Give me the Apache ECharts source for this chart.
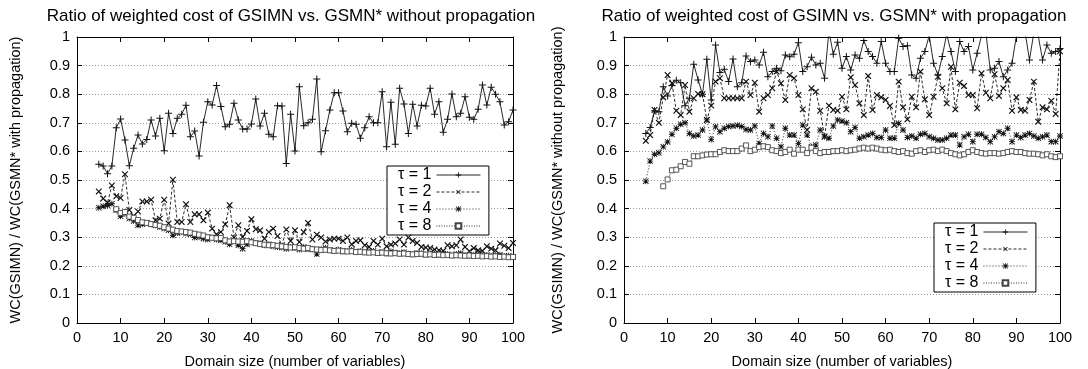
<!DOCTYPE html>
<html>
<head>
<meta charset="utf-8">
<script src="https://cdn.jsdelivr.net/npm/echarts@6/dist/echarts.min.js"></script>
<style>
html,body{margin:0;padding:0;background:#fff;}
#chart{width:1088px;height:369px;}
</style>
</head>
<body>
<div id="chart"></div>
<script>
const domainSizes = [5,6,7,8,9,10,11,12,13,14,15,16,17,18,19,20,21,22,23,24,25,26,27,28,29,30,31,32,33,34,35,36,37,38,39,40,41,42,43,44,45,46,47,48,49,50,51,52,53,54,55,56,57,58,59,60,61,62,63,64,65,66,67,68,69,70,71,72,73,74,75,76,77,78,79,80,81,82,83,84,85,86,87,88,89,90,91,92,93,94,95,96,97,98,99,100];
const seriesNames = ['τ = 1','τ = 2','τ = 4','τ = 8'];
const leftTitle = 'Ratio of weighted cost of GSIMN vs. GSMN* without propagation';
const rightTitle = 'Ratio of weighted cost of GSIMN vs. GSMN* with propagation';
const leftYName = 'WC(GSIMN) / WC(GSMN* with propagation)';
const rightYName = 'WC(GSIMN) / WC(GSMN* without propagation)';
const xName = 'Domain size (number of variables)';

// Left panel: without propagation
const leftT1 = [0.555,0.549,0.522,0.549,0.683,0.713,0.640,0.550,0.611,0.657,
0.626,0.642,0.710,0.654,0.716,0.602,0.733,0.663,0.716,0.730,
0.761,0.651,0.671,0.584,0.702,0.774,0.762,0.830,0.757,0.686,
0.695,0.768,0.710,0.678,0.678,0.696,0.783,0.689,0.733,0.660,
0.651,0.760,0.759,0.558,0.730,0.601,0.826,0.690,0.700,0.712,
0.853,0.599,0.672,0.745,0.805,0.805,0.741,0.669,0.698,0.695,
0.646,0.683,0.721,0.700,0.700,0.809,0.616,0.772,0.625,0.821,
0.766,0.663,0.765,0.689,0.761,0.759,0.821,0.730,0.774,0.667,
0.712,0.801,0.721,0.733,0.791,0.719,0.712,0.747,0.832,0.762,
0.824,0.800,0.774,0.692,0.704,0.745];
const leftT2 = [0.460,0.435,0.421,0.481,0.443,0.437,0.520,0.395,0.375,0.390,
0.425,0.425,0.431,0.359,0.365,0.431,0.348,0.501,0.353,0.353,
0.415,0.353,0.380,0.380,0.359,0.386,0.330,0.310,0.318,0.345,
0.412,0.299,0.342,0.301,0.322,0.363,0.328,0.324,0.295,0.318,
0.330,0.304,0.272,0.327,0.287,0.324,0.283,0.318,0.350,0.292,
0.309,0.299,0.285,0.292,0.295,0.295,0.287,0.299,0.275,0.287,
0.289,0.272,0.266,0.287,0.274,0.295,0.268,0.274,0.278,0.292,
0.274,0.299,0.287,0.280,0.266,0.264,0.262,0.257,0.254,0.252,
0.272,0.268,0.272,0.292,0.266,0.251,0.262,0.254,0.252,0.268,
0.260,0.254,0.278,0.270,0.262,0.280];
const leftT4 = [0.403,0.408,0.411,0.417,0.394,0.373,0.382,0.365,0.357,0.342,
0.345,0.350,0.345,0.342,0.336,0.330,0.324,0.307,0.315,0.318,
0.313,0.310,0.299,0.301,0.295,0.292,0.299,0.292,0.289,0.284,
0.275,0.289,0.272,0.260,0.275,0.287,0.280,0.278,0.272,0.275,
0.268,0.266,0.264,0.260,0.266,0.262,0.257,0.266,0.258,0.258,
0.241,0.258,0.262,0.255,0.253,0.256,0.250,0.252,0.255,0.248,
0.251,0.247,0.249,0.252,0.245,0.248,0.243,0.250,0.246,0.244,
0.247,0.242,0.240,0.245,0.243,0.239,0.244,0.241,0.238,0.242,
0.240,0.236,0.241,0.244,0.238,0.235,0.239,0.241,0.236,0.238,
0.234,0.237,0.239,0.233,0.235,0.231];
const leftT8 = [null,null,null,null,0.398,0.385,0.388,0.372,0.368,0.360,
0.352,0.350,0.346,0.343,0.340,0.335,0.330,0.326,0.322,0.320,
0.318,0.316,0.312,0.309,0.306,0.300,0.298,0.296,0.297,0.289,
0.285,0.286,0.285,0.284,0.286,0.282,0.279,0.276,0.274,0.272,
0.272,0.270,0.268,0.266,0.264,0.265,0.262,0.260,0.262,0.258,
0.257,0.255,0.256,0.254,0.252,0.253,0.251,0.250,0.251,0.248,
0.249,0.247,0.246,0.247,0.245,0.246,0.244,0.243,0.244,0.242,
0.243,0.241,0.240,0.241,0.242,0.239,0.240,0.238,0.239,0.237,
0.238,0.236,0.237,0.236,0.235,0.236,0.234,0.235,0.233,0.234,
0.232,0.233,0.231,0.232,0.230,0.231];

// Right panel: with propagation
const rightT1 = [0.663,0.684,0.742,0.739,0.826,0.794,0.830,0.849,0.840,0.760,
0.786,0.905,0.850,0.800,0.922,0.780,0.972,0.876,0.887,0.844,
0.923,0.826,0.840,0.934,0.914,0.920,0.902,0.947,0.861,0.879,
0.891,0.882,0.937,0.931,0.940,0.980,0.879,0.896,0.929,0.902,
0.908,0.856,1.020,0.940,0.982,0.891,0.932,0.885,0.937,0.926,
0.988,0.949,0.932,0.908,0.984,0.908,0.879,0.879,0.996,0.967,
0.969,0.867,0.856,0.926,0.949,1.005,0.908,0.867,0.932,1.010,
0.949,0.879,0.984,0.949,0.967,0.885,0.943,1.005,1.015,0.885,
0.891,0.914,0.861,0.885,0.908,1.005,1.040,1.015,0.920,1.015,
1.005,0.920,0.972,0.943,0.949,0.960];
const rightT2 = [0.637,0.657,0.745,0.700,0.789,0.867,0.838,0.742,0.727,0.832,
0.739,0.786,0.801,0.800,0.710,0.760,0.844,0.856,0.786,0.786,
0.786,0.786,0.786,0.844,0.797,0.840,0.739,0.786,0.797,0.821,
0.879,0.838,0.780,0.867,0.856,0.797,0.747,0.675,0.821,0.809,
0.742,0.652,0.760,0.745,0.742,0.791,0.747,0.859,0.832,0.768,
0.727,0.864,0.745,0.797,0.789,0.780,0.759,0.692,0.844,0.754,
0.712,0.791,0.754,0.879,0.782,0.727,0.791,0.861,0.821,0.768,
0.896,0.747,0.840,0.829,0.797,0.797,0.751,0.873,0.805,0.786,
0.870,0.794,0.821,0.850,0.742,0.789,0.745,0.742,0.780,0.844,
0.704,0.754,0.747,0.777,0.731,0.950];
const rightT4 = [0.496,0.566,0.590,0.595,0.616,0.633,0.660,0.681,0.695,0.700,
0.663,0.654,0.657,0.675,0.710,0.642,0.686,0.669,0.681,0.687,
0.689,0.691,0.687,0.677,0.675,0.689,0.628,0.663,0.651,0.689,
0.646,0.616,0.681,0.657,0.657,0.628,0.692,0.657,0.616,0.622,
0.675,0.651,0.646,0.689,0.710,0.706,0.700,0.669,0.684,0.646,
0.651,0.657,0.663,0.649,0.649,0.675,0.646,0.646,0.698,0.675,
0.649,0.654,0.646,0.660,0.663,0.651,0.646,0.640,0.640,0.646,
0.657,0.657,0.622,0.651,0.660,0.634,0.660,0.660,0.649,0.634,
0.651,0.669,0.663,0.681,0.634,0.657,0.649,0.657,0.663,0.654,
0.646,0.651,0.657,0.634,0.634,0.654];
const rightT8 = [null,null,null,null,0.478,0.502,0.534,0.536,0.548,0.563,
0.557,0.583,0.583,0.586,0.589,0.590,0.590,0.598,0.604,0.601,
0.601,0.601,0.610,0.621,0.601,0.606,0.615,0.618,0.615,0.604,
0.601,0.594,0.598,0.606,0.592,0.606,0.606,0.594,0.613,0.601,
0.594,0.598,0.598,0.601,0.601,0.604,0.601,0.604,0.606,0.610,
0.613,0.610,0.613,0.610,0.606,0.604,0.606,0.601,0.598,0.601,
0.594,0.592,0.601,0.604,0.598,0.604,0.606,0.601,0.606,0.601,
0.594,0.590,0.586,0.590,0.598,0.604,0.598,0.594,0.592,0.594,
0.594,0.592,0.594,0.598,0.601,0.598,0.598,0.594,0.592,0.592,
0.590,0.586,0.590,0.583,0.580,0.583];

const FONT = "'Liberation Sans', Arial, sans-serif";
const FS = 14.5;
const plusPath = 'path://M3,0h1v3h3v1h-3v3h-1v-3h-3v-1h3z';
const starPath = 'path://M3,0h1v7h-1z M0,3h7v1h-7z M0,0.7L0.7,0L7,6.3L6.3,7Z M6.3,0L7,0.7L0.7,7L0,6.3Z';

const styles = [
  {symbol: plusPath, symbolSize: 7, symbolRotate: 0, lineType: 'solid', empty: false},
  {symbol: plusPath, symbolSize: 8, symbolRotate: 45, lineType: [3,2], empty: false},
  {symbol: starPath, symbolSize: 6, symbolRotate: 0, lineType: [1,2], empty: false},
  {symbol: 'rect', symbolSize: 5, symbolRotate: 0, lineType: [1,1.5], empty: true}
];

function pairs(arr){ return domainSizes.map((x,i)=>[x, arr[i]]); }

function mkSeries(arr, k, gi){
  const st = styles[k];
  return {
    type: 'line', name: seriesNames[k],
    xAxisIndex: gi*2, yAxisIndex: gi*2,
    data: pairs(arr),
    symbol: st.symbol, symbolSize: st.symbolSize, symbolRotate: st.symbolRotate,
    showSymbol: true, showAllSymbol: true, clip: true, connectNulls: false,
    lineStyle: {color: '#111', width: 0.9, type: st.lineType},
    itemStyle: st.empty ? {color: '#fff', borderColor: '#444', borderWidth: 0.9}
                        : {color: '#111', borderWidth: 0},
    emphasis: {disabled: true}, z: 3 + k
  };
}

const grids = [
  {left: 77, top: 37, width: 436, height: 286, containLabel: false, outerBoundsMode: 'none'},
  {left: 624, top: 37, width: 436, height: 286, containLabel: false, outerBoundsMode: 'none'}
];

function xAxes(gi){
  return [
    {gridIndex: gi, type: 'value', min: 0, max: 100, interval: 10, position: 'bottom',
     name: xName, nameLocation: 'middle', nameGap: 31,
     nameTextStyle: {fontFamily: FONT, fontSize: FS, color: '#000'},
     axisLine: {show: true, onZero: false, lineStyle: {color: '#000', width: 1}},
     axisTick: {show: true, inside: true, length: 5, lineStyle: {color: '#000'}},
     axisLabel: {fontFamily: FONT, fontSize: FS, color: '#000', margin: 7},
     splitLine: {show: false}},
    {gridIndex: gi, type: 'value', min: 0, max: 100, interval: 10, position: 'top',
     axisLine: {show: true, onZero: false, lineStyle: {color: '#000', width: 1}},
     axisTick: {show: true, inside: true, length: 5, lineStyle: {color: '#000'}},
     axisLabel: {show: false}, splitLine: {show: false}}
  ];
}
function yAxes(gi, nm, gap){
  return [
    {gridIndex: gi, type: 'value', min: 0, max: 1, interval: 0.1, position: 'left',
     name: nm, nameLocation: 'middle', nameGap: gap,
     nameTextStyle: {fontFamily: FONT, fontSize: FS, color: '#000'},
     axisLine: {show: true, onZero: false, lineStyle: {color: '#000', width: 1}},
     axisTick: {show: true, inside: true, length: 5, lineStyle: {color: '#000'}},
     axisLabel: {fontFamily: FONT, fontSize: FS, color: '#000', margin: 7},
     splitLine: {show: true, lineStyle: {color: '#999', width: 1, type: [1,2]}}},
    {gridIndex: gi, type: 'value', min: 0, max: 1, interval: 0.1, position: 'right',
     axisLine: {show: true, onZero: false, lineStyle: {color: '#000', width: 1}},
     axisTick: {show: true, inside: true, length: 5, lineStyle: {color: '#000'}},
     axisLabel: {show: false}, splitLine: {show: false}}
  ];
}

function legendAt(left, top){
  return {
    left: left, top: top, orient: 'vertical', align: 'right',
    data: seriesNames, itemWidth: 44, itemHeight: 7, itemGap: 1,
    padding: [1, 8, 1, 11],
    backgroundColor: '#fff', borderColor: '#000', borderWidth: 1, borderRadius: 0,
    selectedMode: false,
    lineStyle: {width: 0.9},
    textStyle: {fontFamily: FONT, fontSize: 16, color: '#000', lineHeight: 14}
  };
}

const chart = echarts.init(document.getElementById('chart'), null, {renderer: 'canvas'});
chart.setOption({
  animation: false,
  backgroundColor: '#fff',
  title: [
    {text: leftTitle, left: 286, top: 3, textAlign: 'center',
     textStyle: {fontFamily: FONT, fontSize: 17, fontWeight: 'normal', color: '#000'}},
    {text: rightTitle, left: 829, top: 3, textAlign: 'center',
     textStyle: {fontFamily: FONT, fontSize: 17, fontWeight: 'normal', color: '#000'}}
  ],
  grid: grids,
  xAxis: [...xAxes(0), ...xAxes(1)],
  yAxis: [...yAxes(0, leftYName, 54), ...yAxes(1, rightYName, 59)],
  legend: [legendAt(387, 166), legendAt(934, 223)],
  series: [
    mkSeries(leftT1, 0, 0), mkSeries(leftT2, 1, 0), mkSeries(leftT4, 2, 0), mkSeries(leftT8, 3, 0),
    mkSeries(rightT1, 0, 1), mkSeries(rightT2, 1, 1), mkSeries(rightT4, 2, 1), mkSeries(rightT8, 3, 1)
  ]
});
</script>
</body>
</html>
